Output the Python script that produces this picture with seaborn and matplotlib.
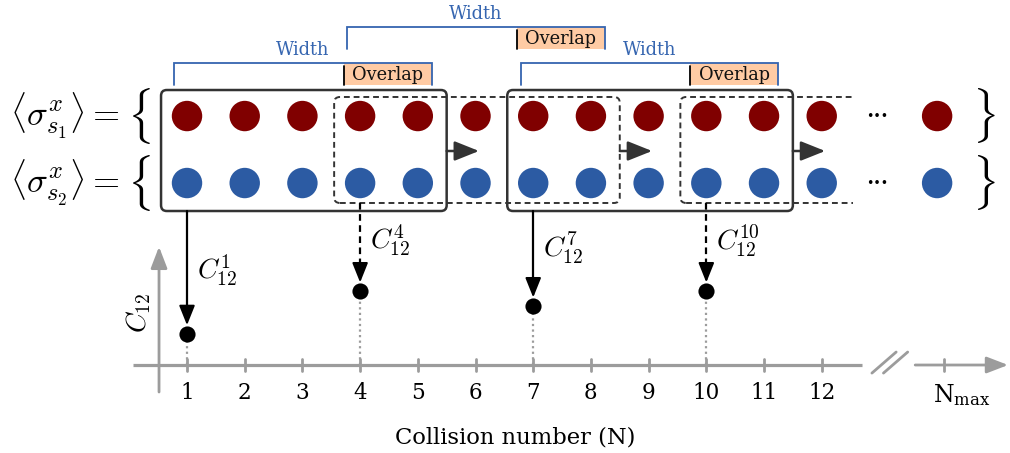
import numpy as np
import pandas as pd
import matplotlib
matplotlib.use("Agg")
import matplotlib.pyplot as plt
import seaborn as sns
from matplotlib.patches import FancyBboxPatch, Rectangle

# ---- data -------------------------------------------------------------
collisions = list(range(1, 13))          # visible collision numbers
n_max_pos = 14.0                         # last sample, drawn after the axis break
n_max_tick = 14.12
window_starts = [1, 4, 7, 10]            # first collision of each sliding window
window_width = 5
window_overlap = 2
c12_collisions = [1, 4, 7, 10]
c12_values = [0.54, 1.28, 1.02, 1.28]
c12_labels = [r"$C_{12}^{1}$", r"$C_{12}^{4}$", r"$C_{12}^{7}$", r"$C_{12}^{10}$"]
tick_labels = [str(n) for n in collisions]
n_max_label = r"$\mathregular{N_{max}}$"
row_names = [r"$\langle\sigma^{x}_{s_1}\rangle =$", r"$\langle\sigma^{x}_{s_2}\rangle =$"]

# ---- style ------------------------------------------------------------
sns.set_theme(style="white")
plt.rcParams["font.family"] = ["DejaVu Serif", "DejaVu Sans"]
plt.rcParams["mathtext.fontset"] = "cm"
plt.rcParams["text.color"] = "black"

RED = "#800000"
BLUE = "#2c5ba3"
BRACKET = "#3565b0"
PEACH = "#ffcba4"
DARK = "#333333"
GRAY = "#9c9c9c"

fig = plt.figure(figsize=(10.1, 4.53), dpi=100)
ax = fig.add_axes([0, 0, 1, 1])

row_y = {"s1": 4.315, "s2": 3.154}

# ---- observable rows ----------------------------------------------------
rows = pd.DataFrame({
    "N": collisions * 2 + [n_max_pos, n_max_pos],
    "row": ["s1"] * len(collisions) + ["s2"] * len(collisions) + ["s1", "s2"],
})
rows["y"] = rows["row"].map(row_y)
sns.scatterplot(data=rows, x="N", y="y", hue="row",
                palette={"s1": RED, "s2": BLUE}, s=480, linewidth=0,
                legend=False, ax=ax, zorder=4)

for name, key in zip(row_names, ["s1", "s2"]):
    y = row_y[key]
    ax.text(-2.07, y, name, fontsize=25, ha="left", va="center")
    ax.text(0.16, y, r"$\{$", fontsize=33, ha="center", va="center")
    ax.text(14.8, y, r"$\}$", fontsize=33, ha="center", va="center")
    ax.text(12.96, y, "•••", fontsize=9, ha="center", va="center",
            family=["DejaVu Sans"])

# ---- sliding windows ----------------------------------------------------
solid_top, solid_bot = 4.766, 2.669
dash_top, dash_bot = 4.645, 2.808
r = 0.1
box_edges = []
for i, start in enumerate(window_starts):
    end = start + window_width - 1
    x0, x1 = start - 0.45, end + 0.5
    if i % 2 == 0:
        patch = FancyBboxPatch((x0, solid_bot), x1 - x0, solid_top - solid_bot,
                               boxstyle=f"round,pad=0,rounding_size={r}",
                               fc="none", ec=DARK, lw=1.8, zorder=5)
        ax.add_patch(patch)
    else:
        patch = FancyBboxPatch((x0, dash_bot), x1 - x0, dash_top - dash_bot,
                               boxstyle=f"round,pad=0,rounding_size={r}",
                               fc="none", ec=DARK, lw=1.4, ls=(0, (3, 2)),
                               zorder=5)
        ax.add_patch(patch)
        if i == len(window_starts) - 1:
            clip = Rectangle((x0 - 0.5, 0), 12.54 - x0 + 0.5, 6,
                             transform=ax.transData)
            patch.set_clip_path(clip)
    box_edges.append(x1)

# arrows showing the window moving forward
for x1 in box_edges[:3]:
    ax.annotate("", xy=(x1 + 0.56, 3.709), xytext=(x1, 3.709),
                arrowprops=dict(arrowstyle="-|>,head_length=0.75,head_width=0.3",
                                mutation_scale=20, color=DARK, lw=1.8,
                                shrinkA=0, shrinkB=0), zorder=6)

# ---- width / overlap brackets -------------------------------------------
levels = [(5.234, 4.853), (5.858, 5.477), (5.234, 4.853)]
for i, start in enumerate(window_starts[:3]):
    end = start + window_width - 1
    top, bot = levels[i]
    bx0, bx1 = start - 0.22, end + 0.24
    ox0 = end - window_overlap + 1 - 0.28
    ax.add_patch(Rectangle((ox0, bot), bx1 - ox0, top - bot,
                           fc=PEACH, ec="none", zorder=2))
    ax.plot([ox0, ox0], [bot, top - 0.05], color="black", lw=1.3, zorder=3)
    ax.plot([bx0, bx0, bx1, bx1], [bot, top, top, bot],
            color=BRACKET, lw=1.3, zorder=3, solid_joinstyle="miter")
    ax.text((ox0 + bx1) / 2, (top + bot) / 2 - 0.01, "Overlap", fontsize=12.8,
            ha="center", va="center", color="#111111", zorder=4)
    ax.text((bx0 + bx1) / 2, top + 0.23, "Width", fontsize=12.8,
            ha="center", va="center", color=BRACKET)

# ---- correlation points ---------------------------------------------------
pts = pd.DataFrame({"N": c12_collisions, "C12": c12_values})
sns.scatterplot(data=pts, x="N", y="C12", color="black", s=135, linewidth=0,
                legend=False, ax=ax, zorder=6)

label_y = [1.65, 2.17, 2.03, 2.15]
for k, (n, v) in enumerate(zip(c12_collisions, c12_values)):
    ax.plot([n, n], [0, v], color=GRAY, lw=1.6, ls=(0, (1, 1.5)), zorder=2)
    tip = v + 0.15
    head = 0.3
    if k % 2 == 0:
        ax.plot([n, n], [solid_bot, tip + head], color="black", lw=1.6, zorder=5)
    else:
        ax.plot([n, n], [dash_bot, tip + head], color="black", lw=1.6,
                ls=(0, (3, 2)), zorder=5)
    ax.annotate("", xy=(n, tip), xytext=(n, tip + head + 0.02),
                arrowprops=dict(arrowstyle="-|>,head_length=0.6,head_width=0.24",
                                mutation_scale=20, color="black", lw=1.5,
                                shrinkA=0, shrinkB=0), zorder=6)
    ax.text(n + 0.17, label_y[k], c12_labels[k], fontsize=20,
            ha="left", va="center")

# ---- axes drawn by hand -------------------------------------------------
ax.plot([0.064, 12.70], [0, 0], color=GRAY, lw=2.3, zorder=1,
        solid_capstyle="butt")
ax.annotate("", xy=(15.23, 0), xytext=(13.62, 0),
            arrowprops=dict(arrowstyle="-|>,head_length=0.65,head_width=0.25",
                            mutation_scale=20, color=GRAY, lw=2.0,
                            shrinkA=0, shrinkB=0))
ax.annotate("", xy=(0.515, 2.05), xytext=(0.515, -0.468),
            arrowprops=dict(arrowstyle="-|>,head_length=0.65,head_width=0.25",
                            mutation_scale=20, color=GRAY, lw=2.0,
                            shrinkA=0, shrinkB=0))
for dx in (0.0, 0.2):
    ax.plot([12.87 + dx, 13.29 + dx], [-0.14, 0.225], color=GRAY, lw=2)

for n, lab in zip(collisions, tick_labels):
    ax.plot([n, n], [-0.11, 0.11], color=GRAY, lw=2, zorder=1)
    ax.text(n, -0.49, lab, fontsize=15.5, ha="center", va="center")
ax.plot([n_max_tick, n_max_tick], [-0.11, 0.11], color=GRAY, lw=2, zorder=1)
ax.text(n_max_tick - 0.2, -0.52, n_max_label, fontsize=17,
        ha="left", va="center")

ax.text(6.68, -1.25, "Collision number (N)", fontsize=16.3,
        ha="center", va="center")
ax.text(0.17, 0.9, r"$C_{12}$", fontsize=20, rotation=90,
        ha="center", va="center")

ax.set_xlim(-2.241, 15.263)
ax.set_ylim(-1.525, 6.326)
ax.set_axis_off()

fig.savefig("out.png", dpi=100)
